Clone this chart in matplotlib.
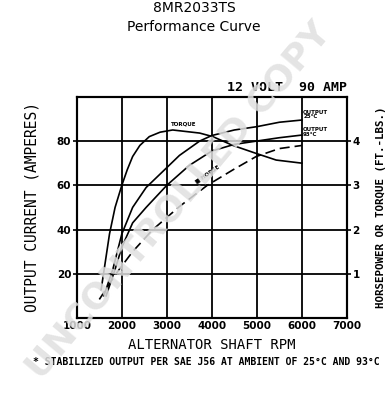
import matplotlib
matplotlib.use("Agg")
import matplotlib.pyplot as plt

# values (rpm vs amps / ft-lbs / hp)
rpm_out25 = [1600, 1800, 2000, 2240, 2540, 3000, 3280, 3730, 4000, 4500, 5000, 5500, 6000]
amps_out25 = [10, 22, 38, 50, 59, 68, 73.5, 80, 82.5, 85, 86.5, 88.5, 89.5]

rpm_out93 = [1650, 1850, 2000, 2240, 2540, 3000, 3500, 4000, 4500, 5000, 5500, 6000]
amps_out93 = [10, 22, 32, 43, 50, 60, 69, 75.5, 78.5, 80, 81.5, 82.7]

rpm_torque = [1540, 1726, 1850, 2000, 2120, 2240, 2400, 2610, 2850, 3130, 3730, 4020, 4470, 4985, 5430, 6000]
torque = [0.64, 1.9, 2.5, 3.0, 3.35, 3.65, 3.9, 4.1, 4.2, 4.25, 4.18, 4.1, 3.9, 3.72, 3.57, 3.5]

rpm_hp = [1500, 1870, 2240, 2690, 3280, 3900, 4470, 4985, 5500, 6000]
hp = [0.42, 1.0, 1.5, 2.0, 2.52, 3.0, 3.35, 3.65, 3.83, 3.9]

xticks = [1000, 2000, 3000, 4000, 5000, 6000, 7000]
yticks_left = [20, 40, 60, 80]
yticks_right = [1, 2, 3, 4]

fig = plt.figure(figsize=(3.88, 4.0), dpi=100)
ax = fig.add_axes([0.198, 0.205, 0.696, 0.553])
ax2 = ax.twinx()

ax.set_xlim(1000, 7000)
ax.set_ylim(0, 100)
ax2.set_ylim(0, 5)

ax.set_xticks(xticks)
ax.set_xticklabels([str(t) for t in xticks], fontsize=7.5, fontweight='bold')
ax.set_yticks(yticks_left)
ax.set_yticklabels([str(t) for t in yticks_left], fontsize=7.5, fontweight='bold')
ax2.set_yticks(yticks_right)
ax2.set_yticklabels([str(t) for t in yticks_right], fontsize=7.5, fontweight='bold')
ax.tick_params(axis='x', length=0, pad=2)
ax.tick_params(axis='y', length=3, width=1.2, pad=1)
ax2.tick_params(axis='y', length=3, width=1.2, pad=1)

ax.grid(True, color='black', linewidth=1.3)
for s in list(ax.spines.values()) + list(ax2.spines.values()):
    s.set_linewidth(1.5)

ax.plot(rpm_out25, amps_out25, color='black', linewidth=1.2)
ax.plot(rpm_out93, amps_out93, color='black', linewidth=1.2)
ax2.plot(rpm_torque, torque, color='black', linewidth=1.2)
ax2.plot(rpm_hp, hp, color='black', linewidth=1.2, dashes=(6, 3))

ax.text(3380, 86.5, 'TORQUE', fontsize=4, fontweight='bold', ha='center', va='bottom')
ax.text(6030, 92, 'OUTPUT\n25°C', fontsize=4, fontweight='bold', ha='left', va='center', linespacing=0.9)
ax.text(6030, 84, 'OUTPUT\n93°C', fontsize=4, fontweight='bold', ha='left', va='center', linespacing=0.9)
ax.text(3900, 65, '■ HORSE', fontsize=4, fontweight='bold', rotation=35, ha='center', va='center')

ax.set_xlabel('ALTERNATOR SHAFT RPM', family='DejaVu Sans Mono', fontsize=10, labelpad=5)
ax.set_ylabel('OUTPUT CURRENT (AMPERES)', family='DejaVu Sans Mono', fontsize=10.5, labelpad=12)
ax2.set_ylabel('HORSEPOWER OR TORQUE (FT.-LBS.)', family='DejaVu Sans Mono', fontsize=7.8,
               fontweight='bold', labelpad=12)

fig.text(0.5, 0.98, '8MR2033TS', ha='center', va='center', fontsize=10)
fig.text(0.5, 0.932, 'Performance Curve', ha='center', va='center', fontsize=10)
fig.text(0.895, 0.782, '12 VOLT  90 AMP', ha='right', va='center', family='DejaVu Sans Mono',
         fontsize=9.5, fontweight='bold')
fig.text(0.532, 0.094, '* STABILIZED OUTPUT PER SAE J56 AT AMBIENT OF 25°C AND 93°C',
         ha='center', va='center', fontsize=7, fontweight='bold', family='DejaVu Sans Mono')

# watermark
fig.text(0.46, 0.498, 'UNCONTROLLED COPY', ha='center', va='center', rotation=50,
         fontsize=26, fontweight='bold', color='#e0e0e0', alpha=0.85, zorder=10)

fig.savefig('out.png', dpi=100)
